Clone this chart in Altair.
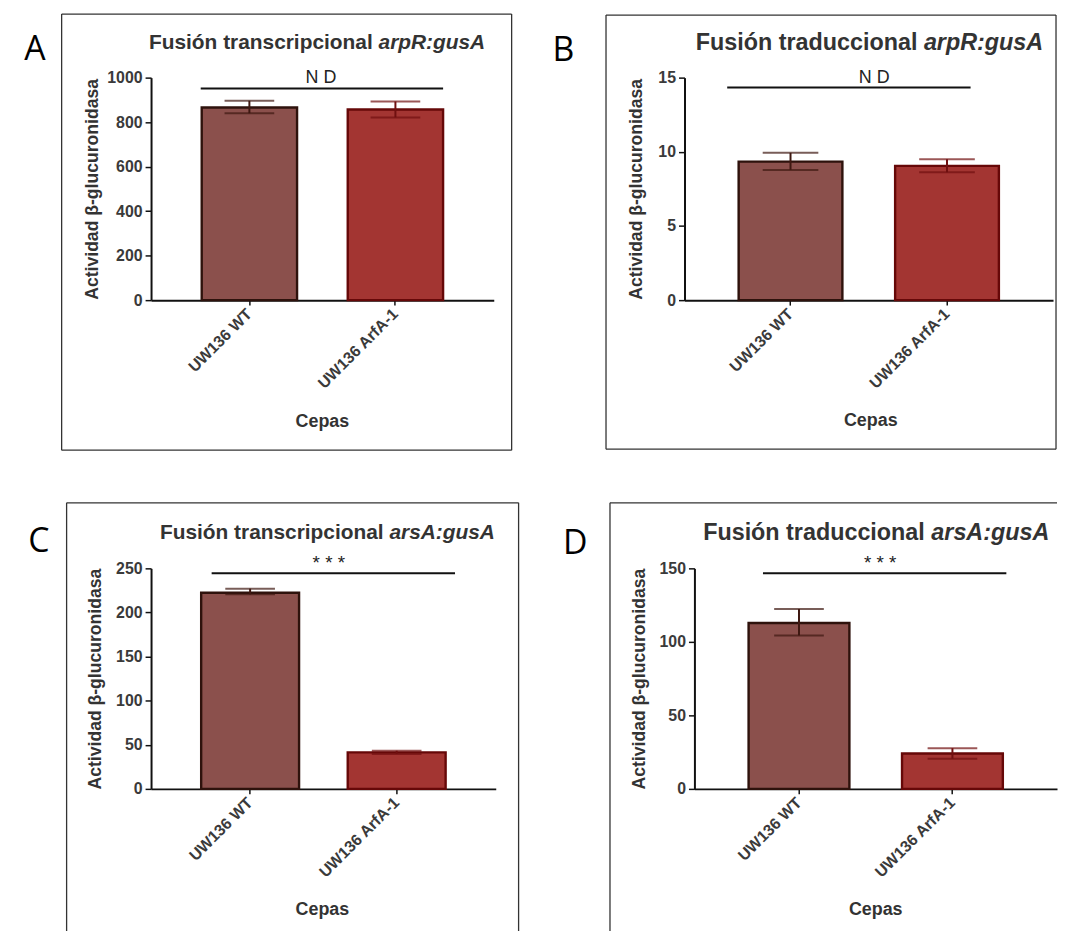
import altair as alt
import pandas as pd

# ---------------- data ----------------
cepas = ["UW136 WT", "UW136 ArfA-1"]

a_media = [866, 857]
a_inf = [840, 821]
a_sup = [896, 893]

b_media = [9.34, 9.05]
b_inf = [8.78, 8.62]
b_sup = [9.93, 9.50]

c_media = [222.4, 41.4]
c_inf = [220.5, 39.6]
c_sup = [227.0, 43.2]

d_media = [112.8, 24.1]
d_inf = [104.3, 20.5]
d_sup = [122.3, 27.7]

a_ticks = [0, 200, 400, 600, 800, 1000]
b_ticks = [0, 5, 10, 15]
c_ticks = [0, 50, 100, 150, 200, 250]
d_ticks = [0, 50, 100, 150]

fill_colors = ["#8b504c", "#a33532"]
stroke_colors = ["#2e120c", "#660808"]
err_colors = ["#3e1811", "#701010"]

FONT = "Liberation Sans"
YTITLE = "Actividad β-glucuronidasa"
XTITLE = "Cepas"
one = pd.DataFrame({"k": [0]})


def panel(media, inf, sup, ymax, yticks, W, H, pi, po, cap, ytx, xtx, xty,
          tpre, tit, split, tsize, ty, sig, sig_y, sx1, sx2, stx, sty, ssize,
          letter, lx, ly, box, marker=False):
    df = pd.DataFrame({"cepa": cepas, "v": media, "inf": inf, "sup": sup})
    xscale = alt.Scale(domain=cepas, paddingInner=pi, paddingOuter=po, align=0.5)
    xaxis = alt.Axis(title=XTITLE, labelAngle=-45, labelAlign="right", labelBaseline="middle",
                     labelFont=FONT, labelFontSize=16, labelFontWeight="bold", labelColor="#3a3a3a",
                     labelPadding=6, tickSize=5, tickWidth=1.5, tickColor="#111",
                     domainColor="#111", domainWidth=2, grid=False,
                     titleFont=FONT, titleFontSize=18, titleFontWeight="bold", titleColor="#333",
                     titleX=xtx, titleY=xty, titleAlign="center", titleBaseline="middle")
    yscale = alt.Scale(domain=[0, ymax], nice=False, zero=True)
    yaxis = alt.Axis(values=yticks, format="d", title=YTITLE, labelFont=FONT, labelFontSize=16,
                     labelFontWeight="bold", labelColor="#3a3a3a", labelPadding=3,
                     tickSize=6, tickWidth=1.5, tickColor="#111",
                     domainColor="#111", domainWidth=2, grid=False,
                     titleFont=FONT, titleFontSize=17.7, titleFontWeight="bold", titleColor="#333",
                     titleAngle=270, titleX=ytx, titleY=H / 2, titleAlign="center",
                     titleBaseline="middle")
    X = alt.X("cepa:N", sort=cepas, scale=xscale, axis=xaxis)
    base = alt.Chart(df)
    bars = base.mark_bar(strokeWidth=2.4).encode(
        x=X,
        y=alt.Y("v:Q", scale=yscale, axis=yaxis),
        fill=alt.Fill("cepa:N", scale=alt.Scale(domain=cepas, range=fill_colors), legend=None),
        stroke=alt.Stroke("cepa:N", scale=alt.Scale(domain=cepas, range=stroke_colors), legend=None),
    )
    ecol = alt.Color("cepa:N", scale=alt.Scale(domain=cepas, range=err_colors), legend=None)
    rule = base.mark_rule(strokeWidth=2).encode(
        x=X, y=alt.Y("inf:Q", scale=yscale, axis=yaxis), y2="sup:Q", color=ecol)
    cap_hi = base.mark_tick(thickness=2, size=cap).encode(
        x=X, y=alt.Y("sup:Q", scale=yscale, axis=yaxis), color=ecol)
    cap_lo = base.mark_tick(thickness=2, size=cap).encode(
        x=X, y=alt.Y("inf:Q", scale=yscale, axis=yaxis), color=ecol)

    o = alt.Chart(one)
    sline = o.mark_rule(color="#111", strokeWidth=2).encode(
        x=alt.value(sx1), x2=alt.value(sx2), y=alt.value(sig_y))
    stext = o.mark_text(text=sig, font=FONT, fontSize=ssize, color="#222",
                        align="center", baseline="alphabetic").encode(
        x=alt.value(stx), y=alt.value(sty))
    t1 = o.mark_text(text=tpre, font=FONT, fontSize=tsize, fontWeight="bold", color="#333",
                     align="right", baseline="middle").encode(
        x=alt.value(split - 0.28 * tsize), y=alt.value(ty))
    t2 = o.mark_text(text=tit, font=FONT, fontSize=tsize, fontWeight="bold", fontStyle="italic",
                     color="#333", align="left", baseline="middle").encode(
        x=alt.value(split), y=alt.value(ty))
    let = o.mark_text(text=letter, font="Open Sans", fontSize=34, color="#000",
                      align="center", baseline="alphabetic").encode(
        x=alt.value(lx), y=alt.value(ly))
    bx1, bx2, by1, by2, has_right, has_bottom = box
    bstyle = dict(color="#333", strokeWidth=1.3)
    layers = [bars, rule, cap_hi, cap_lo, sline, stext, t1, t2, let,
              o.mark_rule(**bstyle).encode(x=alt.value(bx1), x2=alt.value(bx2), y=alt.value(by1)),
              o.mark_rule(**bstyle).encode(x=alt.value(bx1), y=alt.value(by1), y2=alt.value(by2))]
    if has_right:
        layers.append(o.mark_rule(**bstyle).encode(x=alt.value(bx2), y=alt.value(by1), y2=alt.value(by2)))
    if has_bottom:
        layers.append(o.mark_rule(**bstyle).encode(x=alt.value(bx1), x2=alt.value(bx2), y=alt.value(by2)))
    if marker:
        layers.append(o.mark_rect(fill="white").encode(
            x=alt.value(-144), x2=alt.value(-143), y=alt.value(-67), y2=alt.value(-66)))
    return alt.layer(*layers).properties(width=W, height=H)


A = panel(a_media, a_inf, a_sup, 1000, a_ticks, 345, 224, 0.347, 0.347, 50, -59, 172, 122,
          "Fusión transcripcional", "arpR:gusA", 229, 21, -35,
          "N D", 11, 50, 294, 171, 5, 18, "A", -117, -18,
          (-90, 363, -64, 375, True, True), marker=True)
B = panel(b_media, b_inf, b_sup, 15, b_ticks, 371, 224, 0.337, 0.346, 56, -48, 187, 121,
          "Fusión traduccional", "arpR:gusA", 241, 23.5, -35,
          "N D", 10, 43, 288, 191, 5, 18, "B", -122, -17,
          (-79, 374, -63, 374, True, True))
C = panel(c_media, c_inf, c_sup, 250, c_ticks, 347, 222, 0.332, 0.342, 50, -56, 172, 121,
          "Fusión transcripcional", "arsA:gusA", 240, 21, -36,
          "* * *", 5, 61, 306, 179, 1, 19, "C", -113, -16,
          (-85, 370, -66, 365, True, False))
D = panel(d_media, d_inf, d_sup, 150, d_ticks, 365, 222, 0.343, 0.353, 50, -55, 182, 121,
          "Fusión traduccional", "arsA:gusA", 238.5, 23.5, -36,
          "* * *", 5, 69, 314, 187, 1, 19, "D", -120, -14,
          (-85, 365, -66, 365, False, False))

row1 = alt.hconcat(A, B, spacing=192, bounds="flush")
row2 = alt.hconcat(C, D, spacing=200, bounds="flush")
chart = alt.vconcat(row1, row2, spacing=494, bounds="flush").properties(
    padding=0
).configure_view(stroke=None)

chart.save("out.html", embed_options={"renderer": "svg", "actions": False})
